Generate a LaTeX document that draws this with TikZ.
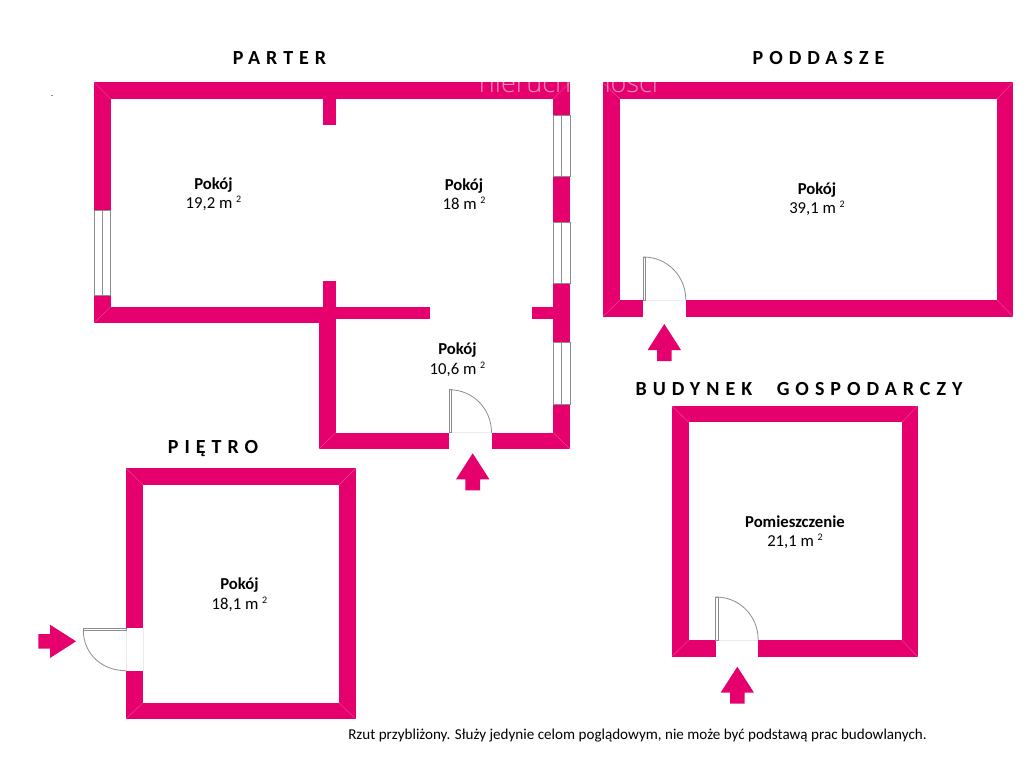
\documentclass[tikz,border=0pt]{standalone}
\usepackage{fontspec}
\setmainfont{Carlito}
\newfontfamily\headfont[LetterSpace=30]{Carlito}
\newfontfamily\markfont{Open Sans Light}
\definecolor{wallpink}{HTML}{E5006D}
\definecolor{framegrey}{HTML}{8C8C8C}
\newcommand{\sqm}{\ \raisebox{6pt}{\fontsize{10}{10}\selectfont 2}}
\tikzset{
	wall/.style={fill=wallpink},
	seam/.style={draw=white,opacity=.3,line width=.4pt},
	glass/.style={draw=framegrey,fill=white,line width=.8pt},
	doorline/.style={draw=framegrey,line width=.8pt},
	sill/.style={draw=black!8,line width=.5pt},
	room/.style={align=center,font=\fontsize{16.7}{19.5}\selectfont,inner sep=0pt},
	title/.style={font=\headfont\bfseries\fontsize{20}{20}\selectfont,inner sep=0pt},
}
\begin{document}
\begin{tikzpicture}[x=1pt,y=-1pt]
	\useasboundingbox (0,0) rectangle (1024,768);
	% walls
	\foreach \xa/\ya/\xb/\yb in {
		94/82.3/570/99, 94/82.3/110.7/210, 94/295.7/110.7/323, 94/306.7/335.7/323,
		323.3/99/335.7/125, 323.3/281/335.7/307, 323.3/307/430.3/319,
		319/307/335.7/449, 319/432.7/449/449, 491.7/432.7/570/449, 531.7/307/553.3/319,
		553.3/82.3/570/115.7, 553.3/176.7/570/222.3, 553.3/283.3/570/342.7, 553.3/404/570/449,
		602.7/82.3/1013/99, 602.7/82.3/620/316.7, 997/82.3/1013/316.7,
		602.7/300/643.3/316.7, 685.7/300/1013/316.7,
		671.7/405.7/917.7/422.3, 671.7/405.7/688.7/656.7, 901.7/405.7/917.7/656.7,
		671.7/640/715.7/656.7, 758.3/640/917.7/656.7,
		126/468.3/355.7/485, 126/468.3/143/628.3, 126/670.7/143/719, 339/468.3/355.7/719,
		126/702.7/355.7/719}
		\fill[wall] (\xa,\ya) rectangle (\xb,\yb);
	% corner seams
	\foreach \xa/\ya/\xb/\yb in {
		94/82.3/110.7/99, 570/82.3/553.3/99, 94/323/110.7/306.7, 319/449/335.7/432.7,
		570/449/553.3/432.7, 602.7/82.3/620/99, 1013/82.3/997/99, 602.7/316.7/620/300,
		1013/316.7/997/300, 671.7/405.7/688.7/422.3, 917.7/405.7/901.7/422.3,
		671.7/656.7/688.7/640, 917.7/656.7/901.7/640, 126/468.3/143/485,
		355.7/468.3/339/485, 126/719/143/702.7, 355.7/719/339/702.7}
		\draw[seam] (\xa,\ya) -- (\xb,\yb);
	% windows
	\foreach \xa/\ya/\xb/\yb in {94/210/110.7/295.7, 553.3/115.7/570/176.7,
		553.3/222.3/570/283.3, 553.3/342.7/570/404} {
		\draw[glass] (\xa,\ya) rectangle (\xb,\yb);
		\draw[glass] ({(\xa+\xb)/2},\ya) -- ({(\xa+\xb)/2},\yb);
	}
	% doors, leaf standing up from the wall
	\foreach \x/\y in {449/432.7, 643.3/300, 715.7/640} {
		\draw[sill] (\x,\y) -- (\x+42.5,\y);
		\draw[doorline] (\x,\y-43) rectangle (\x+2.5,\y);
		\draw[doorline] (\x,\y-43) .. controls (\x+24,\y-43) and (\x+42.5,\y-24) .. (\x+42.5,\y);
	}
	% door on the left side
	\draw[sill] (126,628.3) -- (126,670.7);
	\draw[sill] (143,628.3) -- (143,670.7);
	\draw[doorline] (83.3,628.3) rectangle (126,630.5);
	\draw[doorline] (83.3,630) .. controls (83.3,654) and (102,670.7) .. (126,670.7);
	% entrance arrows
	\foreach \x/\y in {472.7/453.3, 664.3/324, 737.3/666.7}
		\fill[wall] (\x,\y) -- (\x+16.7,\y+26) -- (\x+7.3,\y+26) -- (\x+7.3,\y+37)
			-- (\x-7.3,\y+37) -- (\x-7.3,\y+26) -- (\x-16.7,\y+26) -- cycle;
	\fill[wall] (76,641.3) -- (50,624.7) -- (50,634) -- (38.3,634) -- (38.3,648.7)
		-- (50,648.7) -- (50,658) -- cycle;
	% watermark and the stray mark
	\node[text=white,opacity=.55,font=\markfont\fontsize{27}{27}\selectfont,inner sep=0pt,anchor=base] (watermark) at (568.5,92) {nieruchomosci};
	\fill[black!45] (51,95) rectangle (53,95.6);
	% titles
	\node[title] (parter) at (279.5,58.5) {PARTER};
	\node[title] (poddasze) at (818.5,58.5) {PODDASZE};
	\node[title] (budynek) at (799,389.5) {BUDYNEK\hspace{14pt} GOSPODARCZY};
	\node[title] (pietro) at (213,448.5) {PIĘTRO};
	% rooms
	\node[room] (pokojA) at (213.5,194) {\textbf{Pokój}\\19,2 m\sqm};
	\node[room] (pokojB) at (464,194) {\textbf{Pokój}\\18 m\sqm};
	\node[room] (pokojC) at (457.5,359.5) {\textbf{Pokój}\\10,6 m\sqm};
	\node[room] (pokojD) at (817,199) {\textbf{Pokój}\\39,1 m\sqm};
	\node[room] (pomieszczenie) at (795,532) {\textbf{Pomieszczenie}\\21,1 m\sqm};
	\node[room] (pokojE) at (239.5,594.5) {\textbf{Pokój}\\18,1 m\sqm};
	\node[font=\fontsize{15.1}{15}\selectfont,inner sep=0pt] (rzut) at (637.5,736) {Rzut przybliżony. Służy jedynie celom poglądowym, nie może być podstawą prac budowlanych.};
\end{tikzpicture}
\end{document}
